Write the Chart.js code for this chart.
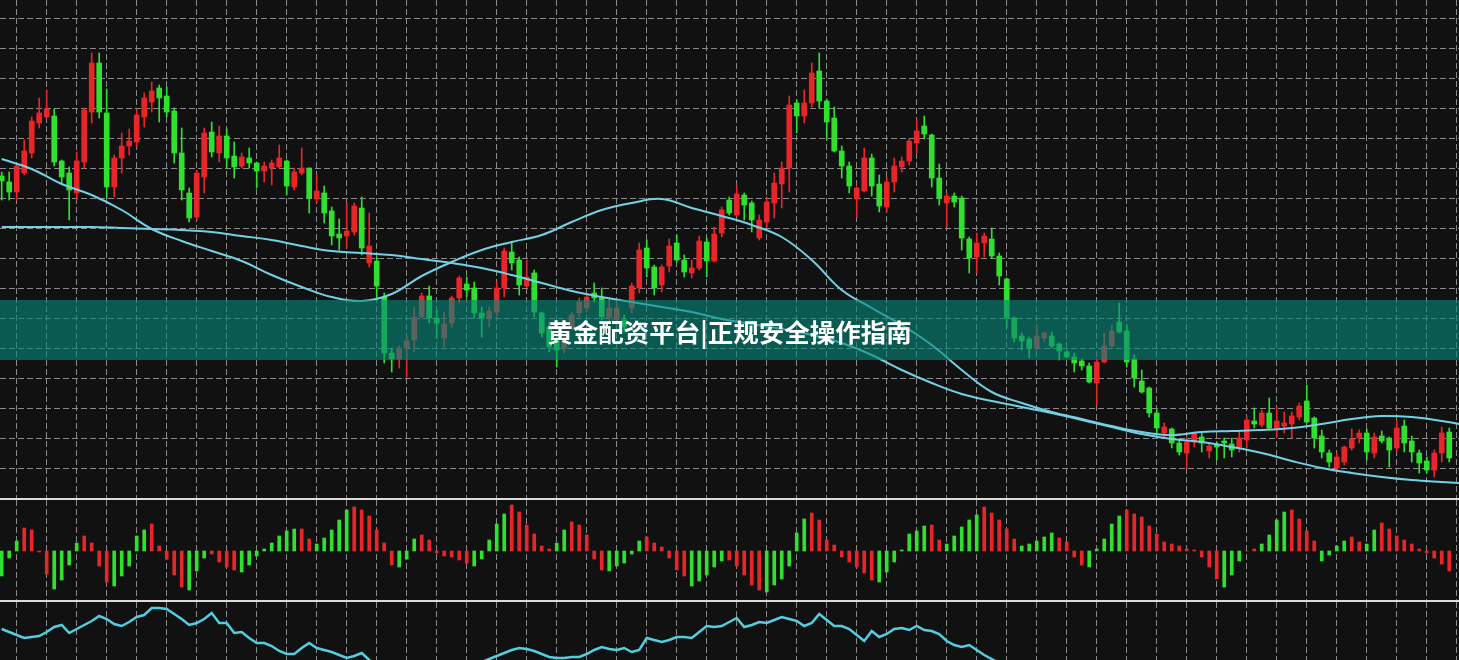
<!DOCTYPE html>
<html>
<head>
<meta charset="utf-8">
<script src="https://cdn.jsdelivr.net/npm/chart.js@4.4.1/dist/chart.umd.min.js"></script>
<style>
  html, body { margin: 0; padding: 0; background: #111; }
  #wrap { position: relative; width: 1459px; height: 660px; overflow: hidden; background: #111; }
  canvas { position: absolute; left: 0; }
  #main { top: 0; }
  #hist { top: 500px; }
  #osc { top: 602px; }
  .sep { position: absolute; left: 0; width: 1459px; height: 2px; background: #dcdcdc; }
  #banner {
    position: absolute; left: 0; top: 300px; width: 1459px; height: 60px;
    background: rgba(6, 135, 122, 0.62);
    display: flex; align-items: center; justify-content: center;
    color: #fff; font: bold 25.5px "Noto Sans CJK SC", sans-serif;
  }
</style>
</head>
<body>
<div id="wrap">
  <canvas id="main" width="1459" height="498"></canvas>
  <div class="sep" style="top:498px"></div>
  <canvas id="hist" width="1459" height="100"></canvas>
  <div class="sep" style="top:600px"></div>
  <canvas id="osc" width="1459" height="58"></canvas>
  <div id="banner">黄金配资平台|正规安全操作指南</div>
</div>
<script>
// candles (price points)
const opens = [
  324,318,308,327,347,377,383,384,339,327, 307,338,388,437,387,313,342,354,358,383,
  398,412,404,389,347,307,283,323,368,347, 364,344,334,342,337,329,332,333,339,313,
  327,332,301,307,289,266,264,268,292,237, 239,203,147,141,152,160,183,204,182,162,
  177,202,216,212,187,182,188,212,248,240, 214,227,187,173,160,152,173,187,192,207,
  202,182,180,180,192,212,252,233,215,234, 257,240,227,232,258,239,267,300,285,305,
  297,262,278,297,316,332,397,384,397,429, 399,382,349,334,301,309,342,316,293,318,
  333,339,357,374,365,322,297,304,302,261, 243,257,261,244,221,182,164,161,152,162,
  164,156,148,143,139,134,117,138,154,178, 169,141,119,112,87,67,71,57,47,58,
  63,49,55,59,56,53,60,79,75,87, 72,74,76,83,99,82,64,47,32,38,
  52,62,67,47,64,62,52,74,59,47, 39,30,47,68
];
const closes = [
  319,308,334,349,379,387,391,338,323,310, 339,390,437,388,313,342,354,359,385,402,
  409,402,388,347,310,282,327,367,348,364, 342,333,343,337,329,334,337,342,314,328,
  332,302,309,287,264,262,269,294,252,254, 214,147,141,152,159,183,204,182,177,176,
  202,222,210,187,182,189,212,249,237,215, 223,188,167,153,150,163,185,198,203,202,
  183,192,192,173,214,250,232,212,233,254, 240,228,232,259,239,266,290,287,306,295,
  280,280,298,317,332,395,384,397,427,399, 378,349,334,314,312,342,314,294,318,334,
  339,359,369,366,322,302,304,298,262,242, 257,264,244,224,182,162,159,152,164,167,
  154,149,143,137,134,118,138,154,169,168, 138,122,108,87,72,73,57,48,58,67,
  57,54,53,57,50,62,80,76,87,72, 79,77,84,94,78,62,48,38,43,53,
  61,67,48,63,59,50,72,57,48,37, 30,47,67,42
];
const highs = [
  328,328,334,360,383,402,410,391,340,333, 348,392,447,447,411,345,367,371,390,407,
  418,415,413,392,372,312,330,372,378,374, 371,358,347,352,338,338,340,355,340,332,
  352,332,325,314,293,281,297,297,303,287, 243,207,152,154,164,193,207,214,190,188,
  204,224,223,218,193,193,218,252,257,243, 240,230,188,178,164,165,188,202,205,217,
  212,202,198,185,217,257,260,235,235,261, 265,245,240,264,262,273,293,303,315,307,
  299,285,303,327,338,404,400,410,437,447, 401,393,354,338,313,352,346,325,323,342,
  343,361,380,384,366,336,307,307,304,263, 267,267,272,247,222,183,167,163,175,168,
  168,157,150,147,141,137,141,167,175,197, 175,145,130,113,90,77,72,60,63,68,
  67,57,58,62,62,68,83,92,90,102, 93,88,88,97,115,83,70,50,47,54,
  71,70,71,67,69,63,80,80,64,50, 43,50,73,72
];
const lows = [
  300,300,300,325,342,372,382,334,317,280, 300,332,377,382,302,303,327,345,353,373,
  388,378,383,337,300,278,280,307,343,338, 332,322,332,332,312,318,315,332,305,310,
  325,287,297,277,255,250,253,265,245,233, 200,137,128,132,123,148,182,177,162,153,
  173,197,203,182,163,173,183,203,230,205, 212,183,163,148,133,147,170,183,188,198,
  180,177,175,168,187,207,223,205,208,228, 238,223,222,230,223,238,263,285,283,280,
  268,260,273,282,292,308,367,377,393,392, 360,348,322,307,283,308,304,288,288,308,
  328,335,347,361,313,295,273,293,250,227, 227,243,242,215,172,158,150,142,150,158,
  152,140,142,128,130,117,95,137,153,167, 133,113,107,83,67,63,52,45,32,53,
  48,42,40,42,43,48,52,72,73,70, 63,67,62,80,77,52,42,33,30,35,
  50,57,40,42,57,33,48,48,38,27, 27,23,38,38
];

// two moving averages, sampled every 4 bars (last point at right edge)
const maBars = [0,4,8,12,16,20,24,28,32,36,40,44,48,52,56,60,64,68,72,76,80,84,88,92,96,
  100,104,108,112,116,120,124,128,132,136,140,144,148,152,156,160,164,168,172,176,180,184,188,192,194.3];
const fastMA = [341,331,316,305,290,271,259,249,239,225, 213,203,199,206,224,238,250,258,265,278,
  290,297,301,292,284,275,263,240,210,192, 175,155,130,108,97,88,81,74,68,65,
  68,69,70,72,76,81,84,83,79,76];
const slowMA = [273,273,273,273,272,271,270,268,264,260, 254,249,247,245,241,237,232,225,217,209,
  203,198,193,188,181,176,171,165,157,145, 130,117,106,99,93,87,80,73,66,61,
  58,53,47,39,32,27,23,20,18,17];

// histogram panel
const hist = [
  -25,-7,10,23,21,-1,-23,-38,-29,-14, 8,15,8,-15,-31,-35,-25,-15,15,21,
  27,5,-8,-24,-36,-39,-20,-7,-3,-11, -16,-19,-21,-14,-5,2,8,15,20,22,
  22,12,7,13,21,31,41,44,41,35, 21,8,-14,-16,-8,12,16,11,-2,-5,
  -6,-9,-12,-15,-8,11,27,37,46,39, 26,17,5,2,8,21,29,26,16,-8,
  -19,-20,-15,-12,-3,10,14,8,4,-7, -19,-25,-35,-30,-24,-16,-10,-9,-15,-24,
  -34,-39,-41,-34,-28,-15,18,32,38,31, 11,6,-6,-11,-16,-22,-29,-31,-21,-11,
  1,17,20,25,26,11,7,15,24,31, 36,44,38,31,22,12,5,7,10,14,
  18,13,9,-6,-14,-16,2,12,27,35, 41,37,34,25,17,9,7,5,2,1,
  -6,-16,-28,-36,-24,-10,0,2,7,16, 31,39,41,32,20,10,-10,-4,5,10,
  14,9,7,21,28,22,15,11,7,2, -2,-7,-13,-20
];
const histSide = ("gggrrrrggg" + "grrrrggggg" + "rrrrrgggrr" + "rrgggggggg" + "rrgggggrrr" +
  "rrrgggrrrr" + "rrrgggggrr" + "rrrrggrrrr" + "rgggggrrrr" + "rrgggggrrr" +
  "rrggggggrr" + "rrrrrrrggg" + "ggggrrgggg" + "grrrrrgggg" + "grrrrggggg" +
  "rrrrrrrrrr" + "rrrgggrrgg" + "ggrrrrgggg" + "rrggrrrrrr" + "rrrr").split("");

// oscillator panel (mostly runs below the visible strip on the right)
const osc = [
  31,28,25,22,23,24,28,33,35,27, 31,35,39,44,41,36,34,38,43,45,
  52,52,51,46,41,35,37,41,47,37, 37,27,28,22,17,17,14,9,6,6,
  12,17,12,10,8,5,2,4,7,0, -5,-8,-11,-14,-17,-19,-20,-19,-17,-15,
  -13,-10,-7,-4,-2,1,4,7,10,12, 11,9,6,3,2,2,3,3,6,10,
  13,11,10,12,8,10,22,20,18,20, 23,23,22,28,34,33,34,38,42,33,
  35,38,37,40,43,41,39,34,37,46, 40,34,34,31,25,19,29,23,26,31,
  32,30,34,30,29,26,19,15,13,15, 10,5,1,-3,-6,-9,-12,-15,-18,-20,
  -22,-24,-25,-26,-26,-25,-24,-23,-22,-24, -26,-28,-30,-32,-33,-34,-35,-34,-32,-30,
  -28,-26,-24,-22,-20,-18,-16,-15,-14,-13, -12,-12,-12,-13,-14,-16,-18,-20,-22,-24,
  -25,-26,-26,-25,-24,-22,-20,-18,-16,-15, -14,-13,-12,-11
];

const RED = "#e8262a";
const GREEN = "#2fe02f";
const GRID = "#8a8a8a";
const MA_COLOR = "#74d0e4";
const X_MIN = -0.227, X_MAX = 194.3;

const bars = opens.map((_, i) => i);
const candleColor = bars.map((i) => (closes[i] >= opens[i] ? RED : GREEN));

// dashed grid every 4 bars, horizontal every 30 points
const gridBars = [];
for (let v = 2; v <= 194; v += 4) gridBars.push(v);
const gridPrices = [];
for (let v = 481.7; v > 20; v -= 30) gridPrices.push(v);

function xAxis() {
  return {
    type: "linear", min: X_MIN, max: X_MAX, offset: false,
    grid: { color: GRID, lineWidth: 1, drawTicks: false, offset: false },
    border: { display: false, dash: [6, 3] },
    ticks: { display: false },
    afterBuildTicks: (s) => { s.ticks = gridBars.map((v) => ({ value: v })); },
  };
}

const common = {
  responsive: false,
  animation: false,
  events: [],
  layout: { padding: 0 },
  plugins: { legend: { display: false }, tooltip: { enabled: false } },
};

// main candle chart
new Chart(document.getElementById("main"), {
  type: "bar",
  data: {
    datasets: [
      {
        type: "line", order: 0,
        data: maBars.map((x, k) => ({ x: x, y: fastMA[k] })),
        borderColor: MA_COLOR, borderWidth: 2, pointRadius: 0, tension: 0.4,
      },
      {
        type: "line", order: 0,
        data: maBars.map((x, k) => ({ x: x, y: slowMA[k] })),
        borderColor: MA_COLOR, borderWidth: 2, pointRadius: 0, tension: 0.4,
      },
      {
        order: 2, grouped: false, barThickness: 1,
        data: bars.map((i) => ({ x: i, y: [lows[i], highs[i]] })),
        backgroundColor: candleColor,
      },
      {
        order: 1, grouped: false, barThickness: 5, minBarLength: 2,
        data: bars.map((i) => ({ x: i, y: [opens[i], closes[i]] })),
        backgroundColor: candleColor,
      },
    ],
  },
  options: {
    ...common,
    scales: {
      x: xAxis(),
      y: {
        min: 2, max: 500,
        grid: { color: GRID, lineWidth: 1, drawTicks: false },
        border: { display: false, dash: [6, 3] },
        ticks: { display: false },
        afterBuildTicks: (s) => { s.ticks = gridPrices.map((v) => ({ value: v })); },
      },
    },
  },
});

// histogram
new Chart(document.getElementById("hist"), {
  type: "bar",
  data: {
    datasets: [{
      barThickness: 3,
      data: bars.map((i) => ({ x: i, y: hist[i] })),
      backgroundColor: bars.map((i) => (histSide[i] === "r" ? RED : GREEN)),
    }],
  },
  options: {
    ...common,
    scales: {
      x: xAxis(),
      y: { min: -49, max: 51, display: false },
    },
  },
});

// oscillator line
new Chart(document.getElementById("osc"), {
  type: "line",
  data: {
    datasets: [{
      data: bars.map((i) => ({ x: i, y: osc[i] })),
      borderColor: "#55cde0", borderWidth: 2.5, pointRadius: 0, tension: 0,
    }],
  },
  options: {
    ...common,
    scales: {
      x: xAxis(),
      y: { min: 0, max: 58, display: false },
    },
  },
});
</script>
</body>
</html>
